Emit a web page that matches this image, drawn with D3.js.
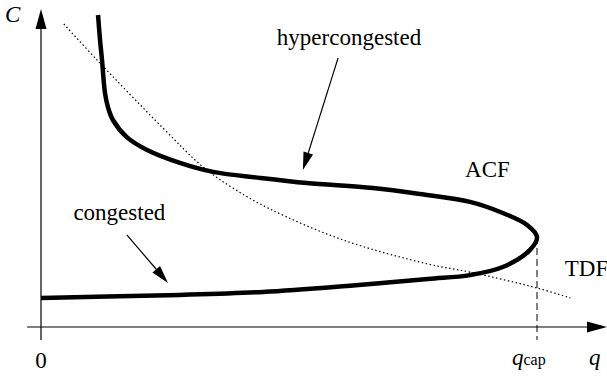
<!DOCTYPE html>
<html>
<head>
<meta charset="utf-8">
<script src="https://cdn.jsdelivr.net/npm/d3@7"></script>
<style>
  body { margin: 0; background: #fff; }
  svg text { font-family: "Liberation Serif", serif; }
</style>
</head>
<body>
<div id="chart"></div>
<script>
// average cost function (backward bending), q in % of capacity, C arbitrary units
var acfQ = [11.5, 11.9, 12.3, 12.9, 13.5, 14.5, 17.3, 21.4, 28.0, 34.7, 44.2, 53.6, 66.9, 76.4, 86.5, 93.1, 98.0, 100,
            98.6, 93.1, 86.5, 78.0, 61.7, 44.8, 28.0, 0];
var acfC = [104, 95.7, 89, 78, 73.3, 69, 63.3, 59, 54.7, 51.7, 49.7, 48, 46.3, 44.3, 41.7, 38, 34, 30,
            25.7, 20, 17.3, 16, 13.7, 11.7, 10.7, 9.7];

// travel demand function (dotted)
var tdfQ = [4.6, 11.3, 24.6, 32.7, 38.7, 46.2, 60.9, 78.0, 86.5, 100, 106.7];
var tdfC = [101, 89, 66.3, 53.3, 46.3, 39.3, 29, 21, 18.3, 13, 9.7];

var qCap = 100;
var cAtCap = 30;

var svg = d3.select('#chart')
    .append('svg')
    .attr('width', 607)
    .attr('height', 381)
    .attr('font-family', 'Liberation Serif');

var x = d3.scaleLinear().domain([0, 100]).range([41, 537]);
var y = d3.scaleLinear().domain([0, 105]).range([327, 12]);

var acf = acfQ.map(function (q, i) { return [q, acfC[i]]; });
var tdf = tdfQ.map(function (q, i) { return [q, tdfC[i]]; });

var line = d3.line()
    .x(function (d) { return x(d[0]); })
    .y(function (d) { return y(d[1]); })
    .curve(d3.curveCatmullRom.alpha(0.5));

// arrow head drawn as a triangle at the end of a segment
function arrow(x1, y1, x2, y2, len, half, width) {
    var a = Math.atan2(y2 - y1, x2 - x1);
    var bx = x2 - len * Math.cos(a), by = y2 - len * Math.sin(a);
    svg.append("line")
        .attr("x1", x1).attr("y1", y1).attr("x2", bx).attr("y2", by)
        .attr("stroke", "#000").attr("stroke-width", width);
    var px = -Math.sin(a) * half, py = Math.cos(a) * half;
    svg.append("path")
        .attr("d", "M" + x2 + "," + y2 + "L" + (bx + px) + "," + (by + py) + "L" + (bx - px) + "," + (by - py) + "Z")
        .attr("fill", "#000");
}

// axes
arrow(x(-2.8), y(0), 607, y(0), 20, 5.5, 1.2);
arrow(x(0), y(-4.3), x(0), 9, 20, 5.5, 1.2);

// capacity marker
svg.append("line")
    .attr("x1", x(qCap)).attr("x2", x(qCap))
    .attr("y1", y(cAtCap)).attr("y2", y(-4.3))
    .attr("stroke", "#000").attr("stroke-width", 1)
    .attr("stroke-dasharray", "7,4");

// curves
svg.append("path").datum(tdf)
    .attr("d", line)
    .attr("fill", "none")
    .attr("stroke", "#000")
    .attr("stroke-width", 1.2)
    .attr("stroke-dasharray", "1.5,2.5");

svg.append("path").datum(acf)
    .attr("d", line)
    .attr("fill", "none")
    .attr("stroke", "#000")
    .attr("stroke-width", 4.5)
    .attr("stroke-linejoin", "round");

// annotation arrows
var notes = [
    { from: [59.9, 89.7], to: [52.8, 52.3] },
    { from: [17.3, 30.7], to: [25.6, 14.7] }
];
notes.forEach(function (n) {
    arrow(x(n.from[0]), y(n.from[1]), x(n.to[0]), y(n.to[1]), 18, 5, 1.2);
});

// labels
function serifText(sel) {
    return sel.attr("font-family", "Liberation Serif")
        .style("font-family", "'Liberation Serif'")
        .style("font-size", "23px")
        .attr("fill", "#000");
}

var labels = [
    { text: "hypercongested", q: 62.1, c: 94, anchor: "middle" },
    { text: "congested", q: 15.8, c: 35.7, anchor: "middle" },
    { text: "ACF", q: 85.5, c: 50, anchor: "start" },
    { text: "TDF", q: 105.6, c: 17, anchor: "start" },
    { text: "0", q: 0, c: -13.7, anchor: "middle" }
];
labels.forEach(function (l) {
    svg.append("text")
        .attr("x", x(l.q)).attr("y", y(l.c))
        .attr("text-anchor", l.anchor)
        .call(serifText)
        .text(l.text);
});

svg.append("text")
    .attr("x", 5).attr("y", 22)
    .call(serifText).style("font-style", "italic")
    .text("C");

svg.append("text")
    .attr("x", 589).attr("y", 365)
    .call(serifText).style("font-style", "italic")
    .text("q");

var qc = svg.append("text")
    .attr("x", 512).attr("y", 365)
    .call(serifText);
qc.append("tspan").style("font-style", "italic").text("q");
qc.append("tspan").style("font-size", "16px").text("cap");
</script>
</body>
</html>
